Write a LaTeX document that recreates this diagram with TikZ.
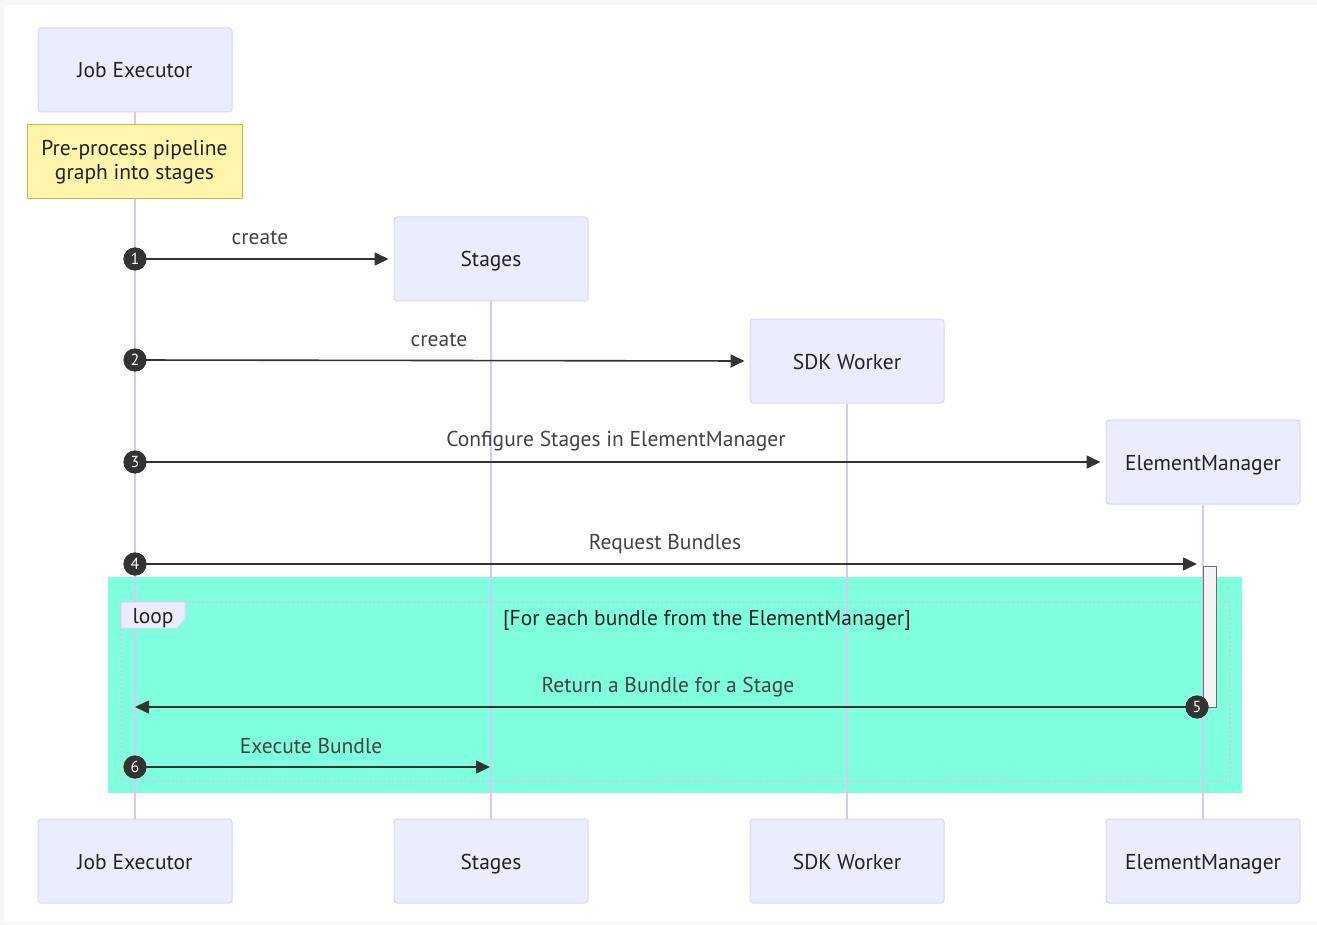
\documentclass[tikz,border=0pt]{standalone}
\usepackage{fontspec}
\setmainfont{PT Sans}
\usetikzlibrary{arrows.meta}
\definecolor{pagegray}{RGB}{247,247,247}
\definecolor{actorfill}{RGB}{236,236,255}
\definecolor{actorline}{RGB}{220,214,245}
\definecolor{lifeline}{RGB}{214,202,244}
\definecolor{notefill}{RGB}{255,245,173}
\definecolor{noteline}{RGB}{190,190,60}
\definecolor{loopfill}{RGB}{127,255,222}
\definecolor{loopframe}{RGB}{205,205,225}
\definecolor{msgcol}{RGB}{51,51,51}
\definecolor{textcol}{RGB}{34,34,34}
\definecolor{actfill}{RGB}{244,244,244}
\definecolor{actline}{RGB}{110,110,110}
\tikzset{
  basefont/.style={font=\fontsize{21.5}{25}\selectfont, text=textcol},
  actor/.style={basefont, draw=actorline, fill=actorfill, line width=1pt,
    rounded corners=3pt, minimum width=194pt, minimum height=84pt, inner sep=0pt,
    text height=19pt, text depth=3pt},
  life/.style={draw=lifeline, line width=1.6pt},
  msg/.style={draw=msgcol, line width=1.6pt, -{Triangle[length=14pt,width=13pt]}},
  seqno/.style={circle, fill=msgcol, minimum size=23pt, inner sep=0pt,
    text=white, font=\fontsize{16}{16}\selectfont},
  msglabel/.style={basefont, text=textcol!85, inner sep=0pt},
}
\begin{document}
\begin{tikzpicture}[x=1pt,y=-1pt]
\useasboundingbox (0,0) rectangle (1317,925);
% page
\fill[pagegray] (0,0) rectangle (1317,925);
\fill[white] (4,5) rectangle (1317,921);
% loop area
\fill[loopfill] (108,577) rectangle (1242,793);

% participants, top and bottom
\node[actor] (jeTop)  at (135,70)   {Job Executor};
\node[actor] (stTop)  at (491,259)  {Stages};
\node[actor] (sdkTop) at (847,361)  {SDK Worker};
\node[actor] (emTop)  at (1203,462) {ElementManager};
\node[actor] (jeBot)  at (135,861)  {Job Executor};
\node[actor] (stBot)  at (491,861)  {Stages};
\node[actor] (sdkBot) at (847,861)  {SDK Worker};
\node[actor] (emBot)  at (1203,861) {ElementManager};

% lifelines
\draw[life] (jeTop.south)  -- (jeBot.north);
\draw[life] (stTop.south)  -- (stBot.north);
\draw[life] (sdkTop.south) -- (sdkBot.north);
\draw[life] (emTop.south)  -- (emBot.north);

% loop frame
\draw[loopframe, line width=1.5pt, dash pattern=on 2pt off 2.5pt] (121,602) rectangle (1230,781);
\draw[fill=actorfill, draw=actorline, line width=1pt]
  (121,602) -- (185,602) -- (185,619) -- (177,628) -- (121,628) -- cycle;
\node[basefont, inner sep=0pt] (looplbl) at (153,618) {loop};
\node[basefont, inner sep=0pt] (loopcond) at (707,620) {[For each bundle from the ElementManager]};

% note
\node[basefont, draw=noteline, fill=notefill, line width=1pt, minimum width=215pt,
  minimum height=74pt, align=center, inner sep=0pt] (note) at (134.5,162)
  {Pre-process pipeline\\[-1pt]graph into stages};

% activation of ElementManager
\draw[fill=actfill, draw=actline, line width=1pt] (1203,566) rectangle (1216,707);

% message anchors
\node[seqno] (n1) at (135,259) {};
\node[seqno] (n2) at (135,360) {};
\node[seqno] (n3) at (135,462) {};
\node[seqno] (n4) at (135,564) {};
\node[seqno] (n5) at (1197,707) {};
\node[seqno] (n6) at (135,767) {};
\coordinate (actTop) at (1203,564);
\coordinate (jeLine5) at (135,707);
\coordinate (stLine6) at (491,767);

% messages
\draw[msg, shorten >=5pt] (n1.center) -- (stTop.west);
\draw[msg, shorten >=5pt] (n2.center) -- (sdkTop.west);
\draw[msg, shorten >=5pt] (n3.center) -- (emTop.west);
\draw[msg, shorten >=6pt] (n4.center) -- (actTop);
\draw[msg] (n5.center) -- (jeLine5);
\draw[msg, shorten >=1pt] (n6.center) -- (stLine6);

% sequence numbers on top of the lines
\foreach \k/\p in {1/n1,2/n2,3/n3,4/n4,5/n5,6/n6}
  \node[seqno] at (\p) {\k};

% message labels
\node[msglabel] (l1) at (260,238) {create};
\node[msglabel] (l2) at (439,340) {create};
\node[msglabel] (l3) at (616,441) {Configure Stages in ElementManager};
\node[msglabel] (l4) at (665,544) {Request Bundles};
\node[msglabel] (l5) at (668,687) {Return a Bundle for a Stage};
\node[msglabel] (l6) at (311,746) {Execute Bundle};
\end{tikzpicture}
\end{document}
